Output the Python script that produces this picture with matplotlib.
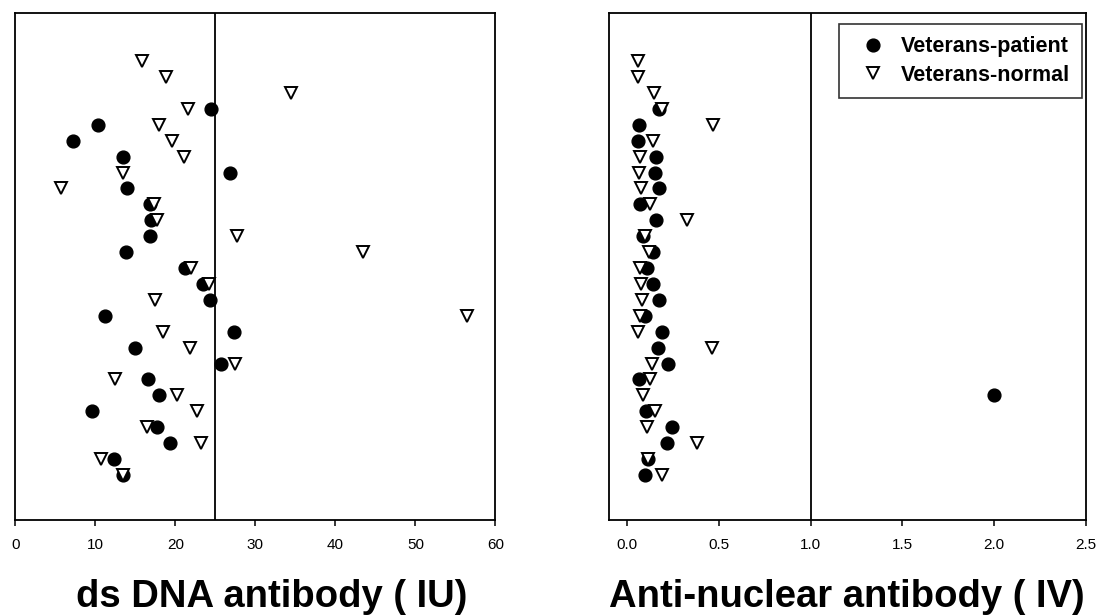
import matplotlib
matplotlib.use("Agg")
import matplotlib.pyplot as plt
import numpy as np

plt.rcParams['font.family'] = ['Liberation Sans', 'DejaVu Sans']

# ---- data (rows listed top to bottom) ----
n_rows = 27
normal_rows = list(range(n_rows))          # all 27 rows hold a normal subject
patient_rows = list(range(3, n_rows))      # 24 patients, rows 3..26

dna_normal = [15.8, 18.8, 34.4, 21.6, 18.0, 19.6, 21.1, 13.4, 5.7, 17.3, 17.7, 27.7, 43.5,
              22.0, 24.2, 17.4, 56.4, 18.4, 21.8, 27.5, 12.4, 20.2, 22.7, 16.4, 23.2, 10.7, 13.4]
dna_patient = [24.4, 10.3, 7.2, 13.4, 26.8, 14.0, 16.8, 17.0, 16.8, 13.8, 21.2, 23.4,
               24.3, 11.2, 27.3, 14.9, 25.7, 16.6, 18.0, 9.6, 17.7, 19.3, 12.3, 13.4]

ana_normal = [0.06, 0.057, 0.147, 0.19, 0.47, 0.142, 0.069, 0.062, 0.073, 0.124, 0.324, 0.098,
              0.117, 0.069, 0.073, 0.082, 0.069, 0.06, 0.46, 0.133, 0.124, 0.087, 0.151, 0.109,
              0.382, 0.111, 0.19]
ana_patient = [0.175, 0.065, 0.058, 0.156, 0.153, 0.175, 0.069, 0.156, 0.087, 0.138, 0.109,
               0.142, 0.175, 0.096, 0.187, 0.166, 0.22, 0.065, 2.0, 0.102, 0.245, 0.215,
               0.111, 0.096]

dna_cutoff = 25
ana_cutoff = 1.0
dna_ticks = [0, 10, 20, 30, 40, 50, 60]
ana_ticks = [0.0, 0.5, 1.0, 1.5, 2.0, 2.5]
ana_ticklabels = ["0.0", "0.5", "1.0", "1.5", "2.0", "2.5"]
labels = ["Veterans-patient", "Veterans-normal"]
xlabels = ["ds DNA antibody ( IU)", "Anti-nuclear antibody ( IV)"]

# y position of each row (top row highest)
def ypos(rows):
    return [n_rows - r for r in rows]

W, H = 1098, 616
fig = plt.figure(figsize=(W / 100, H / 100), dpi=100)

def px_axes(x0, x1, y_top, y_bot):
    return fig.add_axes([x0 / W, (H - y_bot) / H, (x1 - x0) / W, (y_bot - y_top) / H])

ax1 = px_axes(15.4, 495.4, 13, 520)
ax2 = px_axes(608.9, 1085.7, 13, 520)

circ_kw = dict(marker='o', linestyle='none', color='black', markersize=9.2, zorder=3)
tri_kw = dict(marker='v', linestyle='none', markerfacecolor='white', markeredgecolor='black',
              markersize=8.6, markeredgewidth=1.4, zorder=4)

for ax, pat, nor, cut, xl, lim in [
        (ax1, dna_patient, dna_normal, dna_cutoff, xlabels[0], (0, 60)),
        (ax2, ana_patient, ana_normal, ana_cutoff, xlabels[1], (-0.1, 2.5))]:
    ax.plot(pat, ypos(patient_rows), label=labels[0], **circ_kw)
    ax.plot(nor, ypos(normal_rows), label=labels[1], **tri_kw)
    ax.axvline(cut, color='black', lw=1.3, zorder=2)
    ax.set_xlim(*lim)
    ax.set_ylim(-1.83, 30.02)
    ax.set_yticks([])
    for s in ax.spines.values():
        s.set_linewidth(1.3)
    ax.tick_params(axis='x', direction='out', length=4, width=1.1, pad=9,
                   labelsize=11, colors='black')
    ax.set_xlabel(xl, fontsize=27.5, fontweight='bold')

ax1.set_xticks(dna_ticks)
ax2.set_xticks(ana_ticks)
ax2.set_xticklabels(ana_ticklabels)

ax1.xaxis.set_label_coords((272 - 15.4) / 480, (520 - 607) / 507)
ax2.xaxis.set_label_coords(0.5, (520 - 607) / 507)
for ax in (ax1, ax2):
    ax.xaxis.label.set_va('baseline')

leg = ax2.legend(loc='upper right', bbox_to_anchor=((1082 - 608.9) / 476.8, (520 - 24) / 507),
                 borderaxespad=0, frameon=True, fancybox=False, shadow=False,
                 prop={'weight': 'bold', 'size': 15.5}, borderpad=0.57,
                 handlelength=2.0, handletextpad=0.3, labelspacing=0.34, numpoints=1)
leg.get_frame().set_edgecolor('black')
leg.get_frame().set_linewidth(1.2)

fig.savefig("out.png", dpi=100)
